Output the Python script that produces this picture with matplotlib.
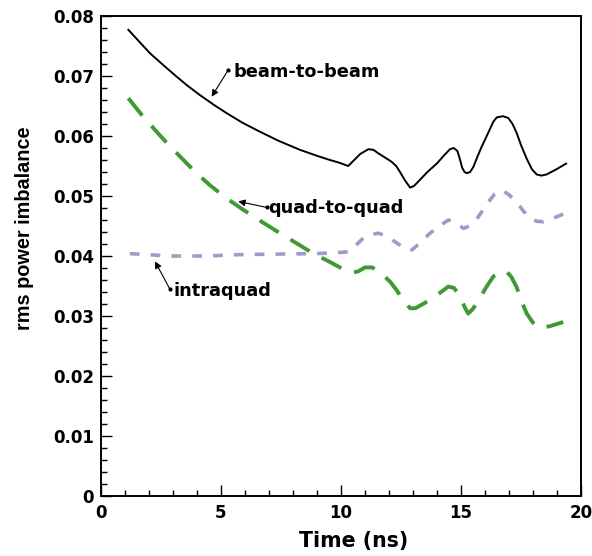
import matplotlib
matplotlib.use("Agg")
import matplotlib.pyplot as plt
from matplotlib.ticker import MultipleLocator, FuncFormatter

plt.rcParams['font.family'] = ['DejaVu Sans']

# beam-to-beam (solid black)
bb_t = [1.14, 1.6, 2.04, 2.6, 3.15, 3.6, 4.13, 4.7, 5.24, 5.9, 6.63, 7.4, 8.29, 9.0, 9.54, 9.89,
        10.3, 10.55, 10.8, 11.14, 11.35, 11.56, 11.8, 12.11, 12.3, 12.46, 12.65, 12.88, 13.05,
        13.29, 13.6, 13.99, 14.3, 14.54, 14.7, 14.85, 14.95, 15.05, 15.15, 15.24, 15.38, 15.51,
        15.7, 15.86, 16.05, 16.21, 16.35, 16.49, 16.75, 16.97, 17.15, 17.32, 17.5, 17.74, 17.95,
        18.15, 18.35, 18.57, 18.95, 19.38]
bb_v = [0.0777, 0.0757, 0.0738, 0.0718, 0.0699, 0.0684, 0.0668, 0.0652, 0.0638, 0.0622, 0.0607,
        0.0592, 0.0577, 0.0567, 0.0560, 0.0556, 0.0550, 0.0560, 0.0570, 0.0578, 0.0577, 0.0571,
        0.0565, 0.0557, 0.0550, 0.0540, 0.0527, 0.0514, 0.0517, 0.0527, 0.0540, 0.0554, 0.0568,
        0.0578, 0.0580, 0.0575, 0.0562, 0.0547, 0.0540, 0.0538, 0.0540, 0.0548, 0.0567, 0.0582,
        0.0598, 0.0612, 0.0624, 0.0631, 0.0633, 0.0630, 0.0620, 0.0605, 0.0585, 0.0562, 0.0545,
        0.0536, 0.0534, 0.0536, 0.0544, 0.0554]

# quad-to-quad (green long dashes)
qq_t = [1.14, 1.7, 2.3, 2.8, 3.29, 3.9, 4.54, 5.2, 5.93, 6.7, 7.46, 8.2, 8.85, 9.54, 10.0, 10.38,
        10.7, 11.0, 11.3, 11.76, 12.05, 12.32, 12.6, 12.88, 13.1, 13.5, 14.0, 14.47, 14.7, 14.96,
        15.15, 15.3, 15.5, 15.79, 16.05, 16.35, 16.65, 16.9, 17.1, 17.32, 17.55, 17.74, 18.0,
        18.29, 18.7, 19.26]
qq_v = [0.0663, 0.0635, 0.0608, 0.0586, 0.0566, 0.0541, 0.0518, 0.0497, 0.0477, 0.0457, 0.0438,
        0.0420, 0.0404, 0.0390, 0.0380, 0.0372, 0.0374, 0.0381, 0.0381, 0.0368, 0.0357, 0.0343,
        0.0326, 0.0313, 0.0313, 0.0322, 0.0335, 0.0349, 0.0347, 0.0334, 0.0315, 0.0304, 0.0312,
        0.0330, 0.0348, 0.0366, 0.0374, 0.0374, 0.0365, 0.0348, 0.0322, 0.0304, 0.0289, 0.0280,
        0.0283, 0.0290]

# intraquad (lavender short dashes)
iq_t = [1.2, 2.04, 3.0, 4.5, 5.38, 7.0, 8.85, 9.67, 10.3, 10.6, 10.93, 11.25, 11.56, 11.97, 12.2,
        12.46, 12.7, 12.95, 13.3, 13.71, 14.1, 14.47, 14.8, 15.1, 15.35, 15.65, 15.9, 16.14,
        16.4, 16.7, 17.0, 17.32, 17.6, 17.88, 18.15, 18.43, 18.9, 19.33]
iq_v = [0.0404, 0.0402, 0.0400, 0.0400, 0.0402, 0.0403, 0.0404, 0.0405, 0.0407, 0.0417, 0.0430,
        0.0436, 0.0438, 0.0432, 0.0425, 0.0418, 0.0411, 0.0410, 0.0422, 0.0438, 0.0450, 0.0460,
        0.0455, 0.0446, 0.0450, 0.0461, 0.0476, 0.0490, 0.0503, 0.0510, 0.0502, 0.0490, 0.0475,
        0.0463, 0.0458, 0.0457, 0.0464, 0.0471]

x_ticks = [0, 5, 10, 15, 20]
y_ticks = [0, 0.01, 0.02, 0.03, 0.04, 0.05, 0.06, 0.07, 0.08]

fig = plt.figure(figsize=(5.92, 5.56), dpi=100)
ax = fig.add_axes([0.1706, 0.1079, 0.8108, 0.8633])

ax.plot(bb_t, bb_v, color='black', lw=1.4)
ax.plot(qq_t, qq_v, color='#3f9a33', lw=2.8, dashes=(16, 10), dash_capstyle='butt',
        scalex=False, scaley=False)
ax.lines[-1].set_dashes([16 / 2.8, 10 / 2.8])
ax.plot(iq_t, iq_v, color='#9c9cc8', lw=2.6, dash_capstyle='butt')
ax.lines[-1].set_dashes([7 / 2.6, 8 / 2.6])

ax.set_xlim(0, 20)
ax.set_ylim(0, 0.08)
ax.set_xticks(x_ticks)
ax.set_yticks(y_ticks)
ax.xaxis.set_minor_locator(MultipleLocator(1))
ax.yaxis.set_minor_locator(MultipleLocator(0.002))
ax.yaxis.set_major_formatter(FuncFormatter(lambda v, p: '0' if abs(v) < 1e-12 else f'{v:.2f}'))
ax.tick_params(which='both', direction='in', top=False, right=False, labelsize=12, width=1)
ax.tick_params(which='major', length=8)
ax.tick_params(which='minor', length=4.5)
ax.tick_params(axis='x', pad=6)
ax.tick_params(axis='y', pad=5)
for lab in ax.get_xticklabels() + ax.get_yticklabels():
    lab.set_fontweight('bold')
for s in ax.spines.values():
    s.set_linewidth(1.4)

ax.set_xlabel('Time (ns)', fontsize=14.8, fontweight='bold')
ax.xaxis.set_label_coords(0.527, -0.072)
ax.set_ylabel('rms power imbalance', fontsize=14.3, fontweight='bold',
              family=['Liberation Sans', 'DejaVu Sans'])
ax.yaxis.set_label_coords(-0.14, 0.558)

arrowprops = dict(arrowstyle='-|>', color='black', lw=0.8, mutation_scale=10, shrinkA=0, shrinkB=0)
ann_text = ['beam-to-beam', 'quad-to-quad', 'intraquad']
ann_text_xy = [(5.52, 0.0698), (6.98, 0.0472), (3.02, 0.0333)]
ann_tail = [(5.3, 0.0710), (6.90, 0.0481), (2.875, 0.03445)]
ann_head = [(4.61, 0.06655), (5.72, 0.0491), (2.25, 0.0391)]
for txt, txy, tail, head in zip(ann_text, ann_text_xy, ann_tail, ann_head):
    ax.text(txy[0], txy[1], txt, fontsize=12.8, fontweight='bold', ha='left', va='baseline')
    ax.annotate('', xy=head, xytext=tail, arrowprops=arrowprops)
    ax.plot([tail[0]], [tail[1]], 'o', color='black', ms=2)

fig.savefig('out.png', dpi=100)
